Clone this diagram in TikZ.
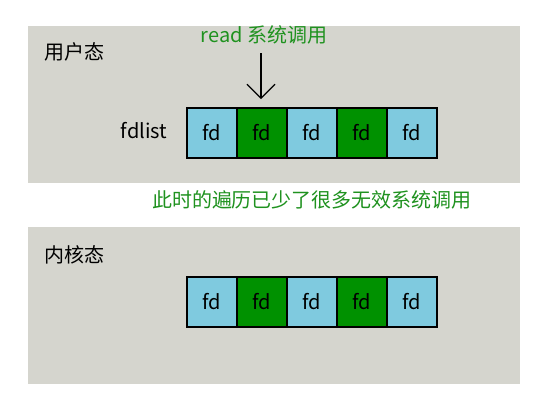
\documentclass[tikz,border=0pt]{standalone}
\usepackage{fontspec}
\setmainfont{Noto Sans CJK SC}
\usetikzlibrary{arrows.meta}
\definecolor{panelgray}{HTML}{D5D5CE}
\definecolor{fdblue}{HTML}{7FCADF}
\definecolor{fdgreen}{HTML}{009100}
\definecolor{notegreen}{HTML}{1F921F}

\begin{document}
\begin{tikzpicture}[x=1pt,y=-1pt, panel/.style={fill=panelgray,draw=none}, blue box/.style={draw,line width=1.4pt,fill=fdblue,minimum size=50pt,inner sep=0pt,font=\fontsize{20}{20}\selectfont}, green box/.style={draw,line width=1.4pt,fill=fdgreen,minimum size=50pt,inner sep=0pt,font=\fontsize{20}{20}\selectfont}, label text/.style={font=\fontsize{20}{20}\selectfont}, note text/.style={text=notegreen,font=\fontsize{20}{20}\selectfont}]
  \useasboundingbox[fill=white] (0,0) rectangle (550,400);

  \path[panel] (28,26) rectangle (520,183);
  \path[panel] (28,227) rectangle (520,384);

  \node[label text] (user) at (75,52) {用户态};
  \node[label text] (kernel) at (75,255) {内核态};
  \node[label text] (fdlist) at (144,131) {fdlist};
  \node[note text] (read) at (264,35) {read 系统调用};
  \node[note text] (note) at (312,200) {此时的遍历已少了很多无效系统调用};

  \node[blue box] (u0) at (212,133) {fd};
  \node[green box] (u1) at (262,133) {fd};
  \node[blue box] (u2) at (312,133) {fd};
  \node[green box] (u3) at (362,133) {fd};
  \node[blue box] (u4) at (412,133) {fd};

  \node[blue box] (k0) at (212,302) {fd};
  \node[green box] (k1) at (262,302) {fd};
  \node[blue box] (k2) at (312,302) {fd};
  \node[green box] (k3) at (362,302) {fd};
  \node[blue box] (k4) at (412,302) {fd};

 \coordinate (arrowtop) at (261,53);
 \coordinate (arrowend) at (261,99);
 \path[] (arrowtop) [-{Straight Barb[length=14pt,width=28pt]},line width=1.1pt] edge node [] {} (arrowend);
\end{tikzpicture}
\end{document}
